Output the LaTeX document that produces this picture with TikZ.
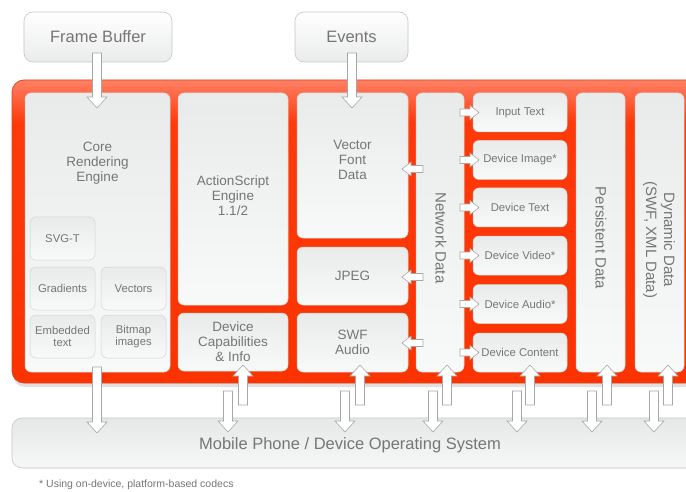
\documentclass[tikz,border=0pt]{standalone}
\usepackage{fontspec}
\setmainfont{Liberation Sans}
\usetikzlibrary{calc}
\definecolor{txtgray}{HTML}{767676}
\definecolor{boxtop}{HTML}{E9EAEA}
\definecolor{boxbot}{HTML}{F8F9F9}
\definecolor{boxline}{HTML}{D2D4D4}
\definecolor{frtop}{HTML}{FF8064}
\definecolor{frmid}{HTML}{FF3A0A}
\definecolor{frbot}{HTML}{FA3300}
\definecolor{frline}{HTML}{D9441F}
\definecolor{arrline}{HTML}{A6A8A8}
\definecolor{osline}{HTML}{C4C6C6}
\definecolor{osbot}{HTML}{F6F7F7}
\definecolor{ostop}{HTML}{E6E7E7}
\definecolor{tbbot}{HTML}{EAEBEB}
\pgfdeclareverticalshading{redframe}{100bp}{color(0bp)=(frbot); color(25bp)=(frbot); color(68bp)=(frmid); color(75bp)=(frtop); color(100bp)=(frtop)}
\newcommand{\blockarrow}[5]{%
  \coordinate (ba-base) at ($(#2)!#5!(#1)$);
  \draw[arr] ($(#1)!#3!90:(#2)$) -- ($(ba-base)!#3!90:(#2)$) -- ($(ba-base)!#4!90:(#2)$) -- (#2) -- ($(ba-base)!#4!-90:(#2)$) -- ($(ba-base)!#3!-90:(#2)$) -- ($(#1)!#3!-90:(#2)$) -- cycle;}
\newcommand{\varr}[2]{\blockarrow{#1}{#2}{4.5pt}{10pt}{11pt}}
\newcommand{\harr}[2]{\blockarrow{#1}{#2}{3.5pt}{7pt}{9pt}}
\begin{document}
\begin{tikzpicture}[x=1pt,y=-1pt,
  box/.style={rounded corners=6pt, shade, top color=boxtop, bottom color=boxbot, draw=boxline, line width=0.5pt, inner sep=0pt, text=txtgray, align=center},
  topbox/.style={rounded corners=9pt, shade, top color=white, bottom color=tbbot, draw=osline, line width=0.6pt, inner sep=0pt, text=txtgray, align=center},
  osbox/.style={rounded corners=10pt, shade, top color=ostop, bottom color=osbot, draw=osline, line width=0.6pt, inner sep=0pt, text=txtgray, align=center},
  frame/.style={rounded corners=12pt, shade, shading=redframe, draw=frline, line width=0.7pt, inner sep=0pt},
  lbl/.style={text=txtgray, align=center, inner sep=0pt},
  big/.style={font=\fontsize{16.5}{18}\selectfont},
  mid/.style={font=\fontsize{13.5}{15}\selectfont},
  rot/.style={font=\fontsize{15}{17}\selectfont},
  sml/.style={font=\fontsize{11.3}{12.5}\selectfont},
  tiny/.style={font=\fontsize{10.5}{12}\selectfont},
  arr/.style={fill=white, draw=arrline, line width=0.6pt, line join=miter}]
\clip (0,0) rectangle (686,492);
\fill[white] (0,0) rectangle (686,492);

% top boxes
\node[topbox, big, minimum width=148pt, minimum height=50pt] (fb) at (98,37) {Frame Buffer};
\node[topbox, big, minimum width=113pt, minimum height=50pt] (ev) at (351.5,37) {Events};

% red frame with faint shadow
\fill[black, opacity=0.12, rounded corners=12pt] (13,84) rectangle (702,387);
\node[frame, minimum width=688pt, minimum height=303pt] (frame) at (356,231.5) {};

% core rendering engine
\node[box, minimum width=145pt, minimum height=279pt] (core) at (97.5,232.5) {};
\node[lbl, mid] (coreT) at (97.5,163) {Core\\Rendering\\Engine};
\node[box, sml, minimum width=65pt, minimum height=43pt] (svg) at (62.5,238.5) {SVG-T};
\node[box, sml, minimum width=65pt, minimum height=43pt] (grad) at (62.5,288.5) {Gradients};
\node[box, sml, minimum width=65pt, minimum height=43pt] (vect) at (133.5,288.5) {Vectors};
\node[box, sml, minimum width=65pt, minimum height=43pt] (emb) at (62.5,336.5) {Embedded\\text};
\node[box, sml, minimum width=65pt, minimum height=43pt] (bmp) at (133.5,336.5) {Bitmap\\images};

% second column
\node[box, mid, minimum width=110pt, minimum height=212pt] (as) at (233,199) {};
\node[lbl, mid] (asT) at (233,196) {ActionScript\\Engine\\1.1/2};
\node[box, mid, minimum width=110pt, minimum height=58pt] (dc) at (233,342) {Device\\Capabilities\\\& Info};

% third column
\node[box, mid, minimum width=111pt, minimum height=145pt] (vf) at (352.5,165.5) {};
\node[lbl, mid] (vfT) at (352.5,160) {Vector\\Font\\Data};
\node[box, mid, minimum width=111pt, minimum height=58pt] (jpeg) at (352.5,276) {JPEG};
\node[box, mid, minimum width=111pt, minimum height=59pt] (swf) at (352.5,342.5) {SWF\\Audio};

% network data
\node[box, minimum width=48pt, minimum height=279pt] (net) at (440,232.5) {};
\node[lbl, rot, rotate=-90] (netT) at (441,238) {Network Data};

% small boxes
\node[box, sml, minimum width=94pt, minimum height=39pt] (it) at (520,112.5) {Input Text};
\node[box, sml, minimum width=94pt, minimum height=39pt] (di) at (520,160) {Device Image*};
\node[box, sml, minimum width=94pt, minimum height=39pt] (dt) at (520,207.5) {Device Text};
\node[box, sml, minimum width=94pt, minimum height=39pt] (dv) at (520,255.5) {Device Video*};
\node[box, sml, minimum width=94pt, minimum height=39pt] (da) at (520,304) {Device Audio*};
\node[box, sml, minimum width=94pt, minimum height=39pt] (dco) at (520,352.5) {Device Content};

% persistent and dynamic data
\node[box, minimum width=49pt, minimum height=279pt] (pd) at (600.5,232.5) {};
\node[lbl, rot, rotate=-90] (pdT) at (601,238) {Persistent Data};
\node[box, minimum width=49pt, minimum height=279pt] (dd) at (659.5,232.5) {};
\node[lbl, rot, rotate=-90, font=\fontsize{15}{18}\selectfont] (ddT) at (659,240) {Dynamic Data\\(SWF, XML Data)};

% OS box
\node[osbox, minimum width=688pt, minimum height=50pt] (os) at (356,443) {};
\node[lbl, big] (osT) at (350,445) {Mobile Phone / Device Operating System};

% footnote
\node[lbl, tiny, anchor=west] (fn) at (39,485) {* Using on-device, platform-based codecs};

% arrow end points
\coordinate (fbA) at (97,53);   \coordinate (fbB) at (97,108);
\coordinate (evA) at (352,53);  \coordinate (evB) at (352,108);
\coordinate (coreA) at (97,367); \coordinate (coreB) at (97,433);
\foreach \n/\x in {d1/228,d2/345,d3/433,d4/517,d5/592,d6/654}{
  \coordinate (\n A) at (\x,391); \coordinate (\n B) at (\x,432);}
\foreach \n/\x in {u1/243,u2/360,u3/447,u4/530,u5/607,u6/668}{
  \coordinate (\n A) at (\x,405); \coordinate (\n B) at (\x,365);}
\foreach \n/\y in {l1/169,l2/277,l3/343}{
  \coordinate (\n A) at (423,\y); \coordinate (\n B) at (402,\y);}
\foreach \n/\y in {r1/112.5,r2/160,r3/207.5,r4/255.5,r5/304,r6/352.5}{
  \coordinate (\n A) at (460,\y); \coordinate (\n B) at (479,\y);}

% arrows
\varr{fbA}{fbB}
\varr{evA}{evB}
\varr{coreA}{coreB}
\varr{d1A}{d1B} \varr{d2A}{d2B} \varr{d3A}{d3B} \varr{d4A}{d4B} \varr{d5A}{d5B} \varr{d6A}{d6B}
\varr{u1A}{u1B} \varr{u2A}{u2B} \varr{u3A}{u3B} \varr{u4A}{u4B} \varr{u5A}{u5B} \varr{u6A}{u6B}
\harr{l1A}{l1B} \harr{l2A}{l2B} \harr{l3A}{l3B}
\harr{r1A}{r1B} \harr{r2A}{r2B} \harr{r3A}{r3B} \harr{r4A}{r4B} \harr{r5A}{r5B} \harr{r6A}{r6B}
\end{tikzpicture}
\end{document}
